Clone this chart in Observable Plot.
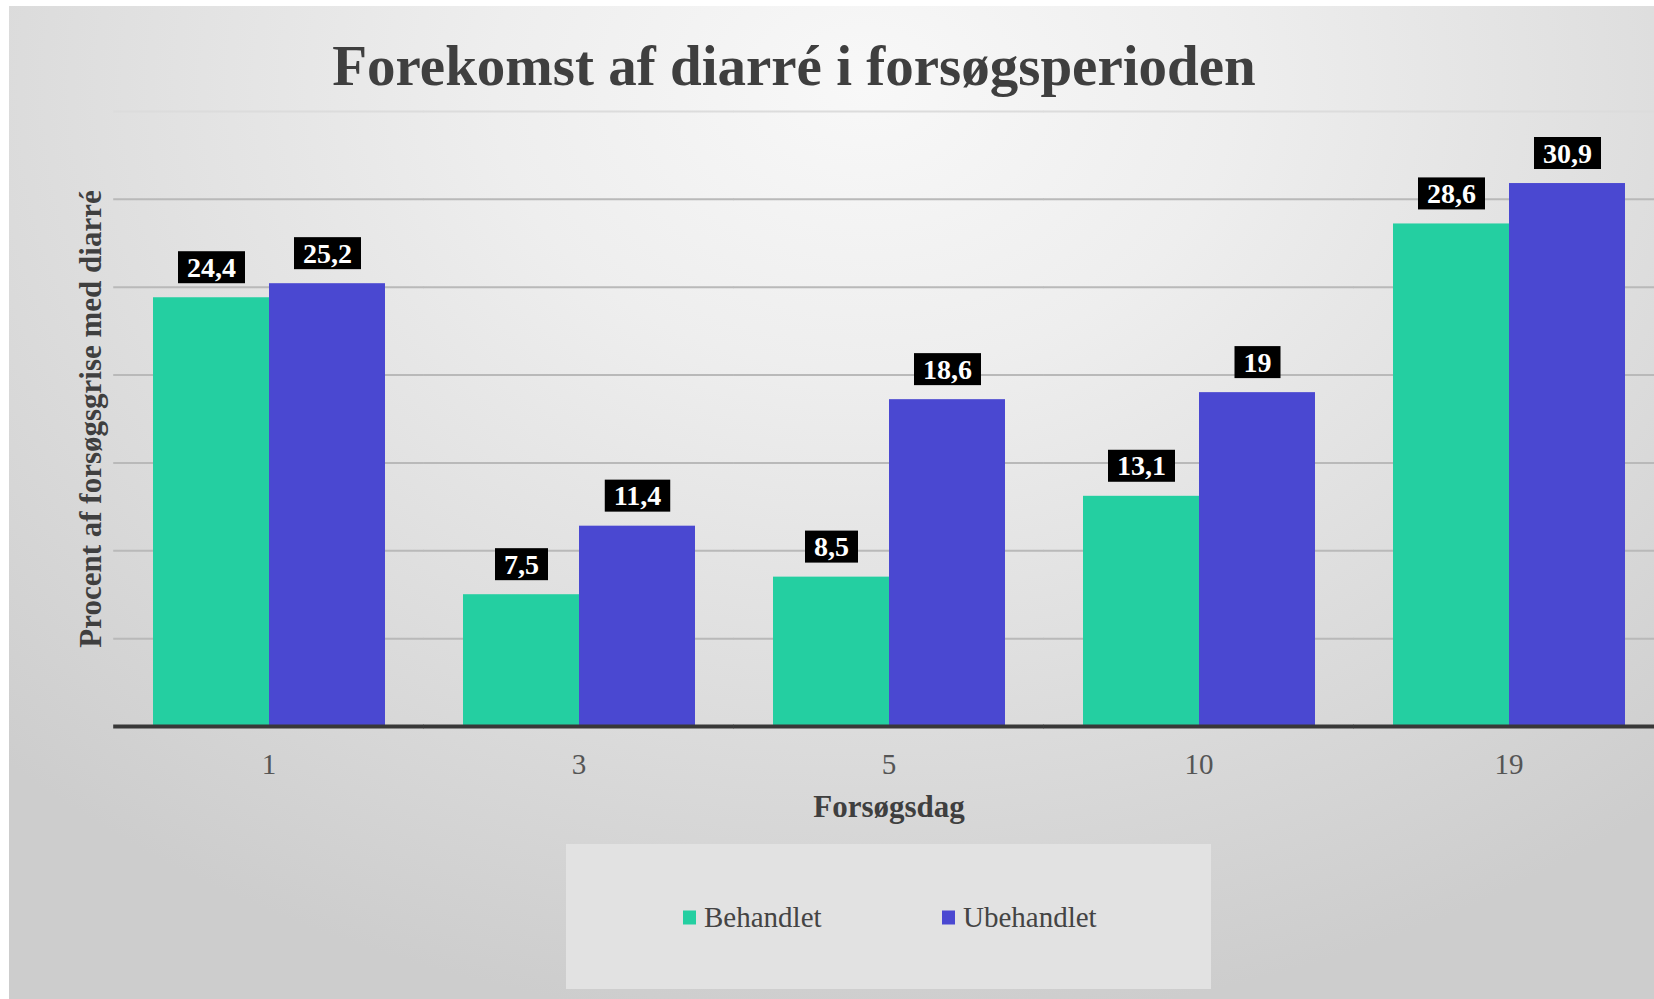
<!DOCTYPE html>
<html>
<head>
<meta charset="utf-8">
<script src="https://cdn.jsdelivr.net/npm/d3@7"></script>
<script src="https://cdn.jsdelivr.net/npm/@observablehq/plot@0.6"></script>
<style>
  html, body { margin: 0; padding: 0; background: #ffffff; overflow: hidden; }
  #page { position: relative; width: 1654px; height: 999px; overflow: hidden; background: #ffffff; }
  #bg { position: absolute; left: 9px; top: 6px; right: 0; bottom: 0;
        background: radial-gradient(ellipse 75% 95% at 52% 8%, #f8f8f8 0%, #eeeeee 30%, #e0e0e0 60%, #cdcdcd 100%); }
  #content { position: absolute; left: 0; top: 0; width: 1664px; }
  #title { width: 1588px; height: 100px; box-sizing: border-box; padding-top: 34px; text-align: center;
           font-family: "Liberation Serif", "Times New Roman", serif; font-weight: bold; font-size: 57px;
           line-height: 1.107; color: #3f3f3f; white-space: nowrap; }
  #legend { position: absolute; left: 566px; top: 844px; width: 645px; height: 145px; background: #e2e2e2; }
  .item { position: absolute; top: 73px; transform: translateY(-50%); display: flex; align-items: center;
          font-family: "Liberation Serif", "Times New Roman", serif; font-size: 29px; color: #444; white-space: nowrap; }
  .sw { width: 13px; height: 14px; margin-right: 8px; }
</style>
</head>
<body>
<div id="page">
  <div id="bg"></div>
  <div id="content">
    <div id="title"></div>
    <div id="chart"></div>
  </div>
  <div id="legend"></div>
</div>
<script>
const titleText = "Forekomst af diarré i forsøgsperioden";
const yLabel = "Procent af forsøgsgrise med diarré";
const xLabel = "Forsøgsdag";
const days = ["1", "3", "5", "10", "19"];
const series = ["Behandlet", "Ubehandlet"];
const behandlet = [24.4, 7.5, 8.5, 13.1, 28.6];
const ubehandlet = [25.2, 11.4, 18.6, 19, 30.9];
const colors = ["#24cfa1", "#4a48d1"];
const gridValues = [5, 10, 15, 20, 25, 30, 35];

const data = [];
days.forEach((d, i) => {
  data.push({day: d, series: series[0], value: behandlet[i]});
  data.push({day: d, series: series[1], value: ubehandlet[i]});
});

document.getElementById("title").textContent = titleText;

const W = 1664, ML = 112, MR = 0;
const padInner = 0.25;
const step = (W - ML - MR) / days.length;
const halfGap = step * padInner / 2;

const chart = Plot.plot({
  width: W,
  height: 740,
  marginTop: 11,
  marginBottom: 114,
  marginLeft: ML,
  marginRight: MR,
  style: {background: "transparent", fontFamily: "'Liberation Serif', 'Times New Roman', serif", fontSize: "29px", color: "#555", overflow: "visible"},
  fx: {domain: days, paddingInner: padInner, paddingOuter: padInner / 2, axis: "bottom", tickSize: 0, tickPadding: 27,
       label: xLabel, labelAnchor: "center", labelOffset: 90},
  x: {domain: series, padding: 0, axis: null},
  y: {domain: [0, 35], axis: "left", ticks: [], tickSize: 0, label: yLabel, labelAnchor: "center", labelOffset: 74, labelArrow: "none"},
  color: {domain: series, range: colors},
  marks: [
    Plot.ruleY(gridValues, {stroke: d => d === 35 ? "#dcdcdc" : "#b9b9b9", strokeWidth: 2, insetLeft: -halfGap, insetRight: -halfGap}),
    Plot.barY(data, {fx: "day", x: "series", y: "value", fill: "series"}),
    Plot.ruleY([0], {stroke: "#383838", strokeWidth: 4, insetLeft: -halfGap, insetRight: -halfGap}),
    Plot.text(data, {fx: "day", x: "series", y: "value", text: d => String(d.value).replace(".", ","),
      dy: -30, lineAnchor: "middle", fill: "white", fontWeight: "bold", fontSize: 28})
  ]
});
document.getElementById("chart").appendChild(chart);

// label boxes behind value labels
d3.select(chart).selectAll('g[aria-label="text"] text').each(function() {
  const bb = this.getBBox();
  const r = document.createElementNS("http://www.w3.org/2000/svg", "rect");
  r.setAttribute("x", bb.x - 9);
  r.setAttribute("y", bb.y + bb.height / 2 - 16);
  r.setAttribute("width", bb.width + 18);
  r.setAttribute("height", 32);
  r.setAttribute("fill", "#000");
  const t = this.getAttribute("transform");
  if (t) r.setAttribute("transform", t);
  this.parentNode.insertBefore(r, this);
});
// bold axis titles
d3.select(chart).selectAll("text").each(function() {
  if (this.textContent === yLabel || this.textContent === xLabel) {
    d3.select(this).attr("font-weight", "bold").attr("fill", "#3f3f3f").attr("font-size", 31);
  }
});

// legend
const legend = d3.select("#legend");
const itemLeft = [117, 376];
series.forEach((s, i) => {
  const it = legend.append("div").attr("class", "item").style("left", itemLeft[i] + "px");
  it.append("div").attr("class", "sw").style("background", colors[i]);
  it.append("span").text(s);
});
</script>
</body>
</html>
